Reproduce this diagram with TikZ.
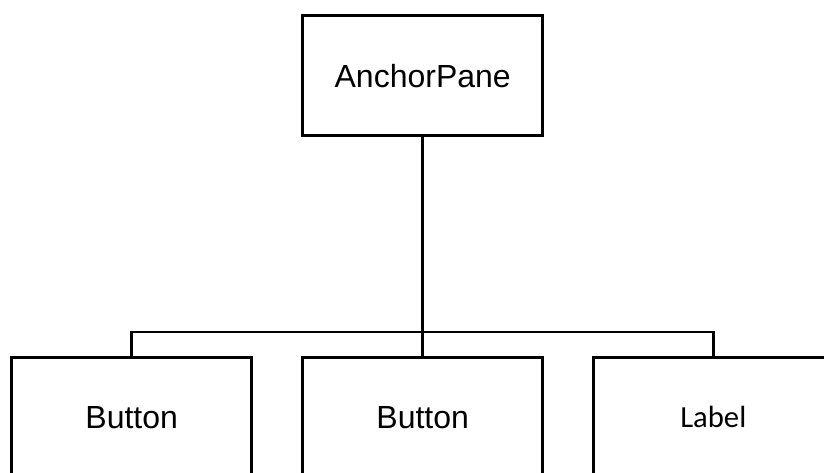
\documentclass[tikz,border=0pt]{standalone}
\usepackage{fontspec}
\setmainfont{Liberation Sans}
\newfontfamily\calibrifont{Carlito}
\begin{document}
\begin{tikzpicture}[x=0.75pt,y=-0.75pt,
  box/.style={draw=black, line width=2.1pt, fill=white, minimum width=180pt, minimum height=90pt, inner sep=0pt, font=\fontsize{24}{29}\selectfont},
  wire/.style={draw=black, line width=2.1pt}]
  \useasboundingbox (0,0) rectangle (824,472);
  \clip (0,0) rectangle (824,472);
  % tree: one parent, three children
  \node[box] (root) at (422.7,75.7) {AnchorPane};
  \node[box] (b1) at (131.7,417.3) {Button};
  \node[box] (b2) at (422.7,417.3) {Button};
  \node[box, font=\calibrifont\fontsize{23}{28}\selectfont] (lb) at (713.3,417.3) {Label};
  \coordinate (bus) at (422.7,332);
  % connectors
  \draw[wire] (root.south) -- (b2.north);
  \draw[wire] (b1.north) -- (b1.north |- bus) -- (lb.north |- bus) -- (lb.north);
\end{tikzpicture}
\end{document}
